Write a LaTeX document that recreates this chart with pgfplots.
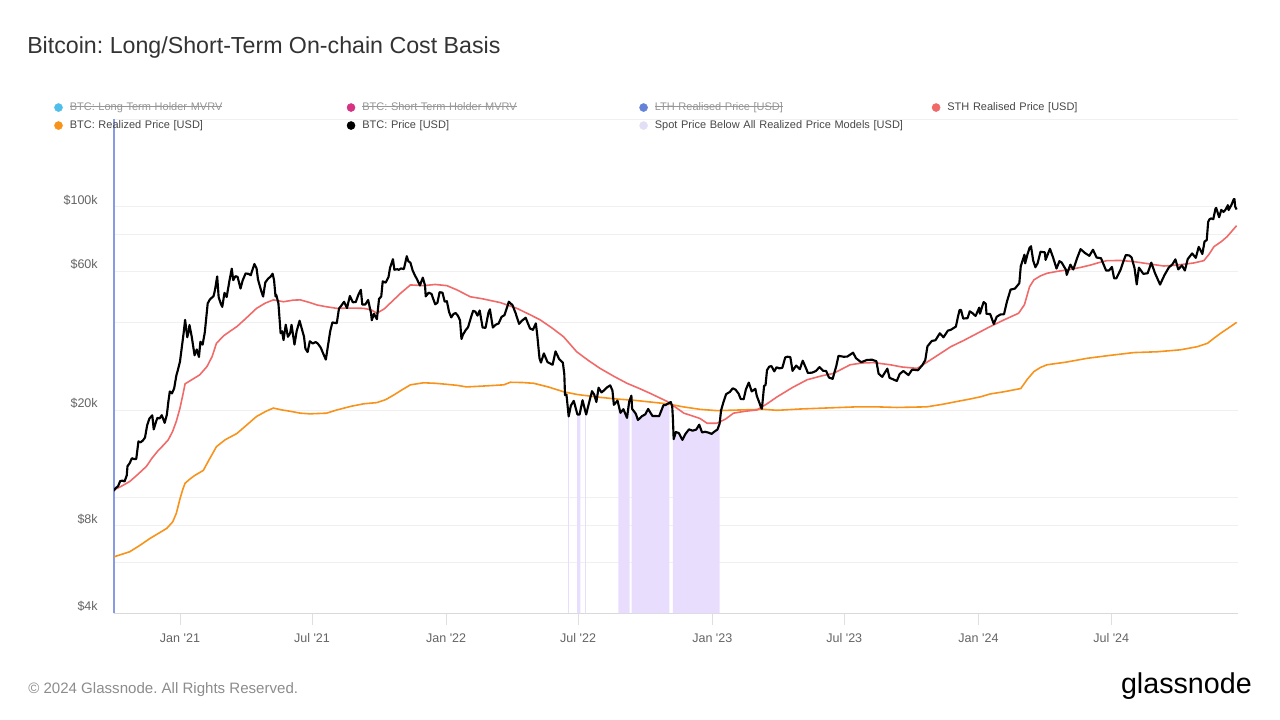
\documentclass[border=0pt]{standalone}
\usepackage{pgfplots}
\pgfplotsset{compat=1.18}
\usepackage{pgfplotstable}
\usepackage{fontspec}
\setmainfont{Liberation Sans}
\frenchspacing

\newsavebox\strikebox
\newcommand\strike[1]{\sbox\strikebox{#1}\rlap{\usebox\strikebox}\rule[0.3em]{\wd\strikebox}{0.45pt}}

\definecolor{ltblue}{RGB}{80,190,235}
\definecolor{stmagenta}{RGB}{214,51,132}
\definecolor{lthblue}{RGB}{100,130,215}
\definecolor{sthred}{RGB}{241,106,106}
\definecolor{realorange}{RGB}{247,147,26}
\definecolor{spotdot}{RGB}{226,222,246}
\definecolor{fillpurple}{RGB}{233,221,253}
\definecolor{axisblue}{RGB}{135,155,228}
\definecolor{gridgray}{RGB}{240,240,240}
\definecolor{titlegray}{RGB}{51,51,51}
\definecolor{labelgray}{RGB}{100,100,100}
\definecolor{leggray}{RGB}{70,70,70}
\definecolor{strikegray}{RGB}{150,150,150}
\definecolor{footgray}{RGB}{140,140,140}

% days since 2021-01-01
\pgfplotstableread{
d p
-91 10550
-88 10790
-85 10930
-82 11390
-79 11430
-76 11360
-73 11920
-72 12820
-69 13120
-66 13650
-63 13560
-60 13560
-57 15590
-54 15480
-51 15700
-48 16070
-45 17730
-42 18680
-38 19170
-36 17150
-33 18180
-31 18800
-28 18700
-25 19190
-21 18060
-18 19270
-16 21310
-14 23150
-11 22800
-8 23730
-5 26270
-3 27360
0 29370
2 32130
5 36770
7 40800
10 35570
12 37390
13 39190
16 35830
20 30830
23 32290
26 30430
28 34320
31 33540
34 36930
38 46480
41 47970
44 48720
46 49200
48 51680
51 57540
53 48890
56 46340
58 45240
61 50540
64 48890
68 55960
71 61200
73 55860
76 57660
79 57350
83 52300
86 55800
90 58920
94 58730
97 58090
102 63500
105 61340
107 56150
111 51700
114 49070
117 54890
121 56620
124 57360
127 58800
129 55850
131 49150
132 49720
135 46430
138 36700
140 37300
142 34770
145 39280
148 35680
151 36690
153 39240
157 33560
160 37340
164 40530
167 38060
170 35790
172 32500
175 31630
178 34450
182 33860
186 34240
189 33820
193 32760
196 31420
200 29800
202 32110
206 37290
209 40010
212 39850
215 39750
218 44600
221 45590
225 47090
229 44800
233 49310
237 46900
241 46990
245 50040
248 51770
250 46080
254 46060
258 47750
262 43000
263 40690
266 42810
270 41030
273 48230
276 49110
278 55360
282 54770
286 57360
288 61530
292 65990
294 60690
298 60930
300 60620
303 61310
307 61000
311 67550
313 64950
316 64160
319 60370
322 58120
325 56290
329 53570
333 57000
336 53600
337 49150
341 50600
345 50100
347 48400
350 46160
353 46700
356 50800
360 50600
363 47120
366 47300
369 43440
372 41600
375 42740
378 43070
381 42200
384 40680
386 35080
388 36280
392 37710
395 38470
399 41570
402 43840
405 43560
408 42200
411 43960
415 38400
419 38330
423 43190
425 44350
429 38420
433 39280
437 39670
441 41790
445 42360
451 47120
456 45810
460 43210
465 39540
469 40560
474 41500
480 38120
484 37710
488 39700
490 36040
493 30100
495 29100
499 31300
504 29200
511 28600
515 31800
520 29900
525 29100
527 26600
528 22500
530 22600
533 19000
536 20700
540 21500
545 19300
548 19300
552 21600
557 19300
561 21200
565 23200
568 22600
571 21300
574 23850
578 22980
581 23300
586 23950
590 24300
593 23340
595 20830
600 21530
604 19550
608 20130
613 18790
616 21360
619 22400
620 20180
625 19420
628 18480
634 19080
638 19310
642 20160
648 19060
652 19070
657 19040
663 20770
666 20810
673 21300
675 20600
676 18540
677 15880
680 16800
684 16670
689 15780
693 16520
698 17160
703 16970
708 17130
712 17800
716 16740
720 16830
725 16710
729 16550
733 16860
737 17130
740 17940
742 19930
745 21180
749 22680
754 23060
758 23740
762 23470
766 22760
769 21800
773 21780
776 23520
780 24840
784 23170
789 23640
791 22360
797 20370
798 20190
801 24200
803 24370
805 27420
808 28170
811 28320
815 27140
818 28030
822 27800
826 27920
830 30320
833 30480
837 30390
840 27260
845 28420
850 27620
854 29540
859 27630
861 26800
867 26880
872 27220
877 28080
882 27250
886 27240
890 25850
895 25580
900 28310
903 30700
910 30480
915 30510
923 31470
927 30140
934 29180
942 29710
949 29770
955 29420
958 26660
963 25990
970 27730
973 25800
983 25160
987 26600
992 27220
999 26360
1004 27530
1012 27390
1018 28520
1022 29670
1025 33090
1031 34540
1036 34730
1042 36700
1047 35550
1053 37480
1057 37720
1064 38690
1067 41980
1069 44080
1071 44170
1074 41240
1080 41360
1083 43650
1087 42990
1091 42070
1096 44940
1097 42850
1102 46970
1105 46340
1106 42780
1111 42750
1116 39510
1120 41820
1125 42580
1130 42660
1134 47130
1139 51840
1145 52270
1151 54520
1153 62430
1158 68310
1159 63800
1162 68310
1165 72100
1167 73080
1170 65320
1173 61900
1176 63780
1180 69960
1186 69650
1187 65600
1193 71620
1197 67190
1202 61270
1206 64940
1209 64260
1215 60610
1216 58250
1221 63160
1225 60790
1230 66250
1235 71430
1241 69290
1247 67750
1252 71080
1257 66820
1263 66490
1270 60270
1274 60320
1278 62030
1281 56660
1284 56700
1290 60800
1293 64100
1297 68170
1302 67910
1305 66820
1309 61420
1312 54020
1315 61710
1321 58740
1327 59010
1332 64180
1337 59120
1344 53960
1350 58130
1356 61770
1361 63330
1365 65880
1369 60840
1374 62820
1378 60300
1382 66050
1388 69030
1393 66640
1397 72740
1402 68740
1405 75860
1408 76700
1410 88700
1412 90580
1414 91070
1417 90540
1420 98390
1421 98920
1425 91960
1428 97460
1431 95840
1434 97760
1437 101170
1438 97320
1442 101460
1445 106030
1446 106140
1447 100040
1449 97760
}\pricedata

\pgfplotstableread{
d p
-91 10600
-80 10950
-69 11350
-58 12000
-46 12800
-38 13700
-30 14500
-22 15200
-16 15800
-10 16900
-5 18300
0 20300
4 22600
7 24600
15 25300
27 26400
37 28200
44 30500
50 33900
60 36000
70 37500
78 38700
90 41200
105 44700
117 46600
128 47800
142 47100
155 47700
165 47800
178 46800
188 45900
200 45300
215 44700
235 44800
252 44700
262 44200
270 43000
280 44500
293 47800
303 50500
316 53800
334 53500
350 54000
366 53500
380 51700
398 49000
415 48200
439 46800
462 44700
480 42500
494 40800
510 38300
526 35700
544 31700
560 29600
576 27800
595 26100
613 24700
630 23700
645 22800
668 21400
680 20400
691 19500
705 19000
713 18700
723 18000
736 18000
748 18600
759 19500
775 19800
791 20000
805 21000
819 22200
840 23900
860 25400
880 26200
896 26700
919 28600
935 29000
951 29100
974 28600
990 28100
1011 27800
1029 29700
1043 31300
1057 33000
1075 34700
1089 36200
1111 38700
1130 40800
1150 43000
1158 46000
1165 53000
1171 56000
1180 57800
1189 59000
1203 59900
1217 60600
1235 61800
1249 63000
1260 64200
1271 65200
1290 65300
1308 64700
1330 63500
1349 62500
1362 62800
1377 63400
1390 64000
1404 65200
1411 68500
1418 72900
1428 75800
1436 78900
1449 86000
}\sthdata

\pgfplotstableread{
d p
-91 6250
-80 6380
-69 6510
-55 6850
-41 7240
-30 7520
-18 7840
-10 8250
-5 8830
0 9900
4 10700
7 11200
14 11600
20 11900
32 12400
40 13500
50 14960
62 15800
78 16600
92 17800
105 19000
118 19800
128 20300
140 20000
151 19800
165 19500
178 19400
190 19450
201 19500
215 20000
235 20600
252 21000
270 21200
282 21700
293 22500
305 23500
316 24400
334 24800
350 24700
366 24500
380 24300
393 24000
420 24200
444 24400
453 24900
470 24850
485 24700
505 24000
526 23100
545 22600
576 22100
600 21800
622 21600
645 21300
668 21000
690 20500
713 20100
736 19900
768 20000
800 20100
819 19950
850 20150
883 20300
928 20500
955 20500
983 20400
1024 20500
1045 20900
1066 21400
1083 21800
1098 22200
1111 22700
1130 23100
1153 23700
1162 25500
1171 27100
1180 28000
1189 28600
1215 29200
1244 30100
1275 30800
1308 31500
1340 31700
1372 32200
1395 33000
1409 33900
1418 35300
1427 36700
1438 38300
1449 40000
}\realdata

\begin{document}
\begin{tikzpicture}
\path[use as bounding box] (0,0) rectangle (960pt,540pt);

\node[anchor=base west, inner sep=0pt, text=titlegray,
      font=\fontsize{17.4pt}{20pt}\selectfont] at (20.25pt,500pt)
  {Bitcoin: Long/Short-Term On-chain Cost Basis};

\begin{axis}[
  at={(85.5pt,80pt)}, anchor=south west,
  scale only axis, width=843pt, height=370.7pt,
  ymode=log, ymin=4000, ymax=200000,
  xmin=-90.5, xmax=1450.9,
  axis lines*=left,
  axis line style={-},
  x axis line style={draw=gridgray!80!gray, line width=0.6pt},
  y axis line style={draw=axisblue, line width=0.8pt},
  ymajorgrids, grid style={draw=gridgray, line width=0.6pt},
  ytick={4000,6000,8000,10000,20000,40000,60000,80000,100000,200000},
  yticklabels={\$4k,,\$8k,,\$20k,,\$60k,,\$100k,},
  xtick={0,181,365,546,730,911,1095,1277},
  xticklabels={Jan \textquotesingle21,Jul \textquotesingle21,Jan \textquotesingle22,Jul \textquotesingle22,Jan \textquotesingle23,Jul \textquotesingle23,Jan \textquotesingle24,Jul \textquotesingle24},
  tick align=outside,
  major tick length=9pt,
  ytick style={draw=none},
  xtick style={draw=gridgray!85!gray, line width=0.5pt},
  ticklabel style={font=\fontsize{9.4pt}{11pt}\selectfont, text=labelgray},
  yticklabel style={anchor=east, inner sep=0pt, xshift=-3pt, yshift=5pt},
  xticklabel style={anchor=north, inner sep=0pt, yshift=-6pt},
  clip=true,
  legend columns=4,
  legend cell align=left,
  legend style={at={(-0.0534,1.0346)}, anchor=north west, draw=none, fill=none,
    inner sep=0pt, row sep=5.5pt,
    nodes={inner sep=0pt, text height=6pt, text depth=2pt,
      font=\fontsize{8.25pt}{10pt}\selectfont},
    /tikz/every odd column/.append style={column sep=5.25pt}},
]

% spot price below all realized price models
\addplot[fill=fillpurple, draw=none, forget plot] coordinates {(532.5,4000) (532.5,19000) (533.5,19000) (533.5,4000)};
\addplot[fill=fillpurple, draw=none, forget plot] coordinates {(544.5,4000) (544.5,19300) (548,19300) (549,19875) (549,4000)};
\addplot[fill=fillpurple, draw=none, forget plot] coordinates {(555.5,4000) (555.5,20200) (556.5,19760) (556.5,4000)};
\addplot[fill=fillpurple, draw=none, forget plot] coordinates {(601,4000) (601,21035) (604,19550) (608,20130) (613,18790) (616,21360) (616.5,21360) (616.5,4000)};
\addplot[fill=fillpurple, draw=none, forget plot] coordinates {(619.5,4000) (619.5,21290) (620,20180) (625,19420) (628,18480) (634,19080) (638,19310) (642,20160) (648,19060) (652,19070) (657,19040) (663,20770) (666,20810) (671,21160) (671,4000)};
\addplot[fill=fillpurple, draw=none, forget plot] coordinates {(675.8,4000) (675.8,18700) (676,18540) (677,15880) (680,16800) (684,16670) (689,15780) (693,16520) (698,17160) (703,16970) (708,17130) (712,17800) (716,16740) (720,16830) (725,16710) (729,16550) (733,16860) (737,17130) (740,17940) (740,4000)};

\addplot[realorange, line width=1.2pt, forget plot] table[x=d, y=p] {\realdata};
\addplot[sthred, line width=1.2pt, forget plot] table[x=d, y=p] {\sthdata};
\addplot[black, line width=1.6pt, line join=round, forget plot] table[x=d, y=p] {\pricedata};

\addlegendimage{legend image code/.code={\fill[ltblue] (3pt,0pt) circle (3pt);}}
\addlegendentry[text width=207.75pt, text=strikegray]{\strike{BTC: Long Term Holder MVRV}}
\addlegendimage{legend image code/.code={\fill[stmagenta] (3pt,0pt) circle (3pt);}}
\addlegendentry[text width=207.75pt, text=strikegray]{\strike{BTC: Short Term Holder MVRV}}
\addlegendimage{legend image code/.code={\fill[lthblue] (3pt,0pt) circle (3pt);}}
\addlegendentry[text width=207.75pt, text=strikegray]{\strike{LTH Realised Price [USD]}}
\addlegendimage{legend image code/.code={\fill[sthred] (3pt,0pt) circle (3pt);}}
\addlegendentry[text width=207.75pt, text=leggray]{STH Realised Price [USD]}
\addlegendimage{legend image code/.code={\fill[realorange] (3pt,0pt) circle (3pt);}}
\addlegendentry[text width=207.75pt, text=leggray]{BTC: Realized Price [USD]}
\addlegendimage{legend image code/.code={\fill[black] (3pt,0pt) circle (3pt);}}
\addlegendentry[text width=207.75pt, text=leggray]{BTC: Price [USD]}
\addlegendimage{legend image code/.code={\fill[spotdot] (3pt,0pt) circle (3pt);}}
\addlegendentry[text width=207.75pt, text=leggray]{Spot Price Below All Realized Price Models [USD]}
\end{axis}

\node[anchor=base west, inner sep=0pt, text=footgray,
      font=\fontsize{11.3pt}{13pt}\selectfont] at (21pt,20pt)
  {\textcopyright{} 2024 Glassnode. All Rights Reserved.};
\node[anchor=base east, inner sep=0pt, text=black,
      font=\fontsize{21.5pt}{24pt}\selectfont] at (939pt,19.5pt)
  {glassnode};
\end{tikzpicture}
\end{document}
